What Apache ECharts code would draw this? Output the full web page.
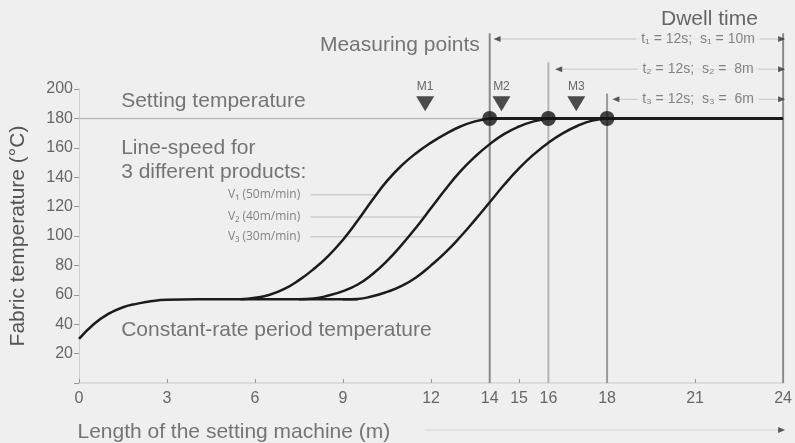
<!DOCTYPE html>
<html>
<head>
<meta charset="utf-8">
<script src="https://cdn.jsdelivr.net/npm/echarts@6/dist/echarts.min.js"></script>
<style>
  html, body { margin: 0; background: #efefef; }
  #main { width: 795px; height: 443px; }
</style>
</head>
<body>
<div id="main"></div>
<script>
// x axis (length of the machine, m)
var xTicks = [0, 3, 6, 9, 12, 15, 21];
var xLabels = [0, 3, 6, 9, 12, 14, 15, 16, 18, 21, 24];

// fabric temperature, [m, °C]
var baseCurve = [[0, 30], [0.5, 40], [1, 47], [1.5, 51.5], [2, 54], [2.5, 55.8], [3, 56.7], [4, 57], [5, 57], [6, 57], [7, 57], [8, 57], [9, 57], [9.5, 57]];
var curveV1 = [[5.5, 57], [6, 58], [6.5, 60], [7, 64], [7.5, 70], [8, 77.5], [8.5, 86.5], [9, 97.5], [9.5, 110.5], [10, 124.5], [10.5, 137.5], [11, 148], [11.5, 156.5], [12, 163.5], [12.5, 169.5], [13, 174.5], [13.5, 178], [14, 180]];
var curveV2 = [[7.5, 57], [8, 57.5], [8.5, 59.5], [9, 62.5], [9.5, 67], [10, 74], [10.5, 83], [11, 94], [11.5, 106], [12, 119], [12.5, 132], [13, 144], [13.5, 154], [14, 162.5], [14.5, 169.5], [15, 174.5], [15.5, 178], [16, 180]];
var curveV3 = [[9, 57], [9.5, 57.2], [10, 59], [10.5, 62], [11, 66], [11.5, 72], [12, 80], [12.5, 89], [13, 99.5], [13.5, 111], [14, 123], [14.5, 135], [15, 146], [15.5, 155.5], [16, 163.5], [16.5, 170], [17, 175], [17.5, 178.5], [18, 180]];
var settingLine = [[0, 180], [14, 180]];
var holdLine = [[14, 180], [24, 180]];
var reachPoints = [[14, 180], [16, 180], [18, 180]];

// vertical reference lines
var vlineX = [14, 16, 18, 24];
var vlineTop = [238, 218, 197, 238];
var vlineColor = ['#8a8a8a', '#b4b4b4', '#9a9a9a', '#8a8a8a'];

// dwell time arrows
var dwellStart = [14.25, 16.35, 18.3];
var dwellEnd = 23.85;
var dwellY = [234, 213.5, 193];
var dwellText = ['t\u2081 = 12s;  s\u2081 = 10m', 't\u2082 = 12s;  s\u2082 =  8m', 't\u2083 = 12s;  s\u2083 =  6m'];
var dwellTextX = 21.1;

// measuring points
var mNames = ['M1', 'M2', 'M3'];
var mX = [11.8, 14.4, 16.95];
var mY = 190;

// line-speed labels
var speedNames = ['V\u2081 (50m/min)', 'V\u2082 (40m/min)', 'V\u2083 (30m/min)'];
var speedY = [128, 113, 99.5];
var speedFrom = 7.9;
var speedTo = [10.1, 11.75, 12.95];

var textColor = '#555';

var myChart = echarts.init(document.getElementById('main'));

function curve(data, w) {
    return {
        type: 'line', data: data, showSymbol: false, smooth: 0.5,
        lineStyle: { color: '#1c1c1c', width: w || 2.5 }, z: 4, silent: true
    };
}
function seg(data, color, w, z) {
    return {
        type: 'line', data: data, showSymbol: false, clip: false, silent: true,
        lineStyle: { color: color, width: w }, z: z || 2
    };
}

var series = [
    curve(baseCurve), curve(curveV1), curve(curveV2), curve(curveV3),
    seg(settingLine, '#bdbdbd', 1.5, 1),
    seg(holdLine, '#1c1c1c', 3, 4)
];
vlineX.forEach(function (x, i) {
    series.push(seg([[x, 0], [x, vlineTop[i]]], vlineColor[i], 2, 3));
});
speedTo.forEach(function (x, i) {
    series.push(seg([[speedFrom, speedY[i]], [x, speedY[i]]], '#cdcdcd', 1.5, 1));
});
dwellStart.forEach(function (x, i) {
    series.push(seg([[x, dwellY[i]], [dwellEnd, dwellY[i]]], '#c4c4c4', 1, 2));
});
// x axis-name arrow
series.push(seg([[11.8, -32], [dwellEnd, -32]], '#d4d4d4', 1, 2));

// arrow heads
var heads = [];
dwellStart.forEach(function (x, i) {
    heads.push({ value: [x, dwellY[i]], symbolRotate: 90 });
    heads.push({ value: [dwellEnd + 0.1, dwellY[i]], symbolRotate: -90 });
});
heads.push({ value: [dwellEnd + 0.1, -32], symbolRotate: -90 });
series.push({
    type: 'scatter', data: heads, symbol: 'triangle', symbolSize: [6, 7], clip: false, silent: true,
    itemStyle: { color: '#333' }, z: 6
});

// markers
series.push({
    type: 'scatter', clip: false, silent: true, z: 6,
    data: mX.map(function (x, i) { return { name: mNames[i], value: [x, mY] }; }),
    symbol: 'triangle', symbolRotate: 180, symbolSize: [18, 15],
    itemStyle: { color: '#222' },
    label: { show: true, position: 'top', distance: 4, formatter: '{b}', fontSize: 12, color: '#444' }
});
series.push({
    type: 'scatter', data: reachPoints, symbolSize: 15, silent: true, z: 7,
    itemStyle: { color: '#151515' }
});

// text notes
function note(x, y, text, label) {
    var l = Object.assign({ show: true, formatter: text, color: textColor, fontSize: 21 }, label);
    return { value: [x, y], label: l };
}
var notes = [
    note(1.42, 191.8, 'Setting temperature', { position: 'right', distance: 0 }),
    note(1.42, 151.7, 'Line-speed for\n3 different products:', { position: 'right', distance: 0, lineHeight: 24 }),
    note(1.42, 36, 'Constant-rate period temperature', { position: 'right', distance: 0 }),
    note(13.68, 230, 'Measuring points', { position: 'left', distance: 0 }),
    note(21.49, 247.6, 'Dwell time', { position: 'inside', color: '#444' }),
    note(-0.07, -33.3, 'Length of the setting machine (m)', { position: 'right', distance: 0 })
];
speedNames.forEach(function (s, i) {
    notes.push(note(speedFrom, speedY[i], s, {
        position: 'left', distance: 10, fontSize: 12, fontFamily: 'Open Sans', color: '#666'
    }));
});
dwellText.forEach(function (s, i) {
    notes.push(note(dwellTextX, dwellY[i], s, {
        position: 'inside', fontSize: 14, color: '#666', backgroundColor: '#efefef', padding: [0, 5]
    }));
});
series.push({
    type: 'scatter', data: notes, symbolSize: 1, clip: false, silent: true, z: 8,
    itemStyle: { color: 'rgba(0,0,0,0)' }
});

var option = {
    animation: false,
    backgroundColor: '#efefef',
    textStyle: { fontFamily: 'Liberation Sans' },
    grid: { left: 78, right: 6, top: 89, bottom: 60 },
    xAxis: {
        type: 'value', min: 0, max: 24,
        axisLine: { lineStyle: { color: '#dcdcdc', width: 2 } },
        axisTick: { inside: true, length: 4, customValues: xTicks, lineStyle: { color: '#999' } },
        axisLabel: { customValues: xLabels, fontSize: 16, color: '#666', margin: 8 },
        splitLine: { show: false }
    },
    yAxis: {
        type: 'value', min: 0, max: 200, interval: 20,
        name: 'Fabric temperature (\u00b0C)', nameLocation: 'middle', nameGap: 50,
        nameTextStyle: { fontSize: 21, color: textColor },
        axisLine: { show: true, lineStyle: { color: '#cfcfcf', width: 1 } },
        axisTick: { length: 5, lineStyle: { color: '#999' } },
        axisLabel: {
            fontSize: 16, color: '#666', margin: 6,
            formatter: function (v) { return v === 0 ? '' : v; }
        },
        splitLine: { show: false }
    },
    series: series
};

myChart.setOption(option);
</script>
</body>
</html>
